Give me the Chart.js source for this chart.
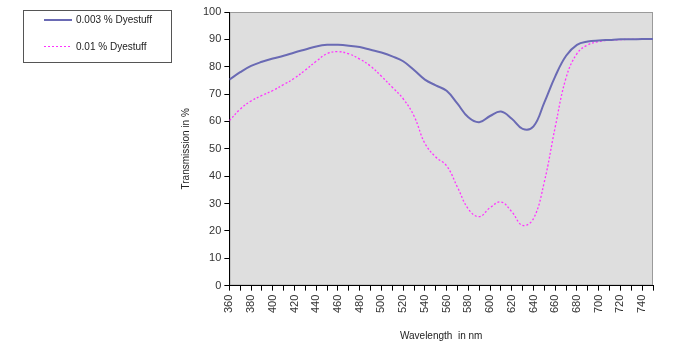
<!DOCTYPE html>
<html>
<head>
<meta charset="utf-8">
<script src="https://cdn.jsdelivr.net/npm/chart.js@4/dist/chart.umd.min.js"></script>
<style>
  html, body { margin: 0; padding: 0; background: #fff; }
  #wrap { position: relative; width: 693px; height: 351px; }
  #legend {
    position: absolute; left: 23px; top: 10px; width: 149px; height: 53px;
    border: 1px solid #555; box-sizing: border-box;
    font: 10px "Liberation Sans", Arial, sans-serif; color: #222;
  }
  .row { position: absolute; left: 20px; display: flex; align-items: center; }
  .swatch { width: 28px; margin-right: 4px; }
  .solid { height: 2px; background: #6a6ab4; }
  .dots { height: 1px; background: repeating-linear-gradient(to right, #ff33ff 0 2px, transparent 2px 4px); }
</style>
</head>
<body>
<div id="wrap">
  <canvas id="dyeChart" width="693" height="351"></canvas>
  <div id="legend">
    <div class="row" style="top:3px"><span class="swatch solid"></span>0.003 % Dyestuff</div>
    <div class="row" style="top:30px"><span class="swatch dots"></span>0.01 % Dyestuff</div>
  </div>
</div>
<script>
// длины волн, нм
const wavelength = [360, 370, 380, 390, 400, 410, 420, 430, 440, 450, 460, 470, 480, 490, 500,
  510, 520, 530, 540, 550, 560, 570, 580, 590, 600, 610, 620, 630, 640, 650,
  660, 670, 680, 690, 700, 710, 720, 730, 740, 750];

// 0.003 % Dyestuff
const dye003 = [75.3, 78, 80.3, 81.8, 83, 84, 85.2, 86.3, 87.4, 88, 88, 87.7, 87.2, 86.2, 85.2,
  83.8, 82, 78.8, 75.3, 73.2, 71.2, 66.5, 61.5, 59.7, 62, 63.6, 61, 57.3, 58.2, 67,
  76.5, 84, 88, 89.2, 89.6, 89.8, 90, 90, 90.1, 90.1];

// 0.01 % Dyestuff
const dye001 = [60.3, 64.5, 67.5, 69.5, 71.3, 73.5, 75.8, 78.8, 82, 84.8, 85.5, 84.7, 82.8, 80.2, 76.5,
  72.5, 68.3, 62, 52, 47, 43.8, 36, 28, 25.2, 28.5, 30.6, 27, 22, 24.5, 38,
  58, 76, 84.8, 88, 89.2, 89.7, 89.9, 90, 90, 90];

const toPoints = arr => arr.map((v, i) => ({ x: wavelength[i], y: v }));

// серый фон области графика
const plotBg = {
  id: 'plotBg',
  beforeDraw(chart) {
    const { ctx, chartArea: a } = chart;
    ctx.save();
    ctx.fillStyle = '#dedede';
    ctx.fillRect(a.left, a.top, a.right - a.left, a.bottom - a.top);
    ctx.strokeStyle = '#9a9a9a';
    ctx.lineWidth = 1;
    ctx.strokeRect(a.left + 0.5, a.top + 0.5, a.right - a.left - 1, a.bottom - a.top - 1);
    ctx.restore();
  }
};

const font = { family: '"Liberation Sans", Arial, sans-serif', size: 11 };

new Chart(document.getElementById('dyeChart'), {
  type: 'line',
  data: {
    datasets: [{
      label: '0.003 % Dyestuff',
      data: toPoints(dye003),
      borderColor: '#6a6ab4',
      borderWidth: 2,
      pointRadius: 0,
      tension: 0.4
    }, {
      label: '0.01 % Dyestuff',
      data: toPoints(dye001),
      borderColor: '#ff33ff',
      borderWidth: 1.3,
      borderDash: [2, 2],
      pointRadius: 0,
      tension: 0.4
    }]
  },
  plugins: [plotBg],
  options: {
    responsive: false,
    animation: false,
    layout: { padding: { left: 176, right: 40, top: 12, bottom: 5 } },
    plugins: { legend: { display: false }, tooltip: { enabled: false } },
    scales: {
      x: {
        type: 'linear',
        min: 360, max: 750,
        border: { color: '#000' },
        grid: { drawOnChartArea: false, color: '#000', tickLength: 5 },
        ticks: {
          stepSize: 10, autoSkip: false, maxRotation: 90, minRotation: 90,
          color: '#333', font: font, padding: 4,
          callback: v => (v % 20 === 0 && v < 750) ? v : ''
        },
        title: { display: true, text: 'Wavelength  in nm', color: '#222', font: { family: font.family, size: 10 }, padding: { top: 13 } }
      },
      y: {
        min: 0, max: 100,
        border: { color: '#000' },
        grid: { drawOnChartArea: false, color: '#000', tickLength: 5 },
        ticks: { stepSize: 10, color: '#333', font: font, padding: 3 },
        title: { display: true, text: 'Transmission in %', color: '#222', font: { family: font.family, size: 10 }, padding: { bottom: 8 } }
      }
    }
  }
});
</script>
</body>
</html>
